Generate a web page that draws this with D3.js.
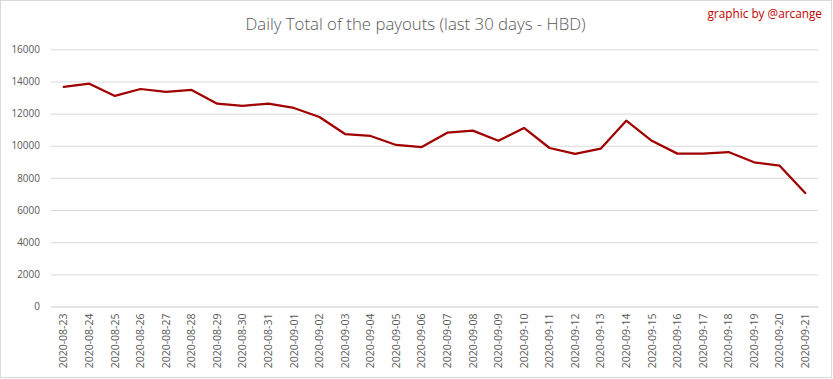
<!DOCTYPE html>
<html><head><meta charset="utf-8">
<script src="https://cdn.jsdelivr.net/npm/d3@7"></script>
<style>body{margin:0;background:#fff}svg{display:block}</style>
</head><body>
<svg id="c" width="833" height="379"></svg>
<script>
const dates = ["2020-08-23","2020-08-24","2020-08-25","2020-08-26","2020-08-27","2020-08-28","2020-08-29","2020-08-30","2020-08-31","2020-09-01","2020-09-02","2020-09-03","2020-09-04","2020-09-05","2020-09-06","2020-09-07","2020-09-08","2020-09-09","2020-09-10","2020-09-11","2020-09-12","2020-09-13","2020-09-14","2020-09-15","2020-09-16","2020-09-17","2020-09-18","2020-09-19","2020-09-20","2020-09-21"];
const payouts = [13660,13860,13100,13530,13350,13470,12620,12480,12620,12350,11790,10730,10610,10050,9920,10810,10940,10310,11110,9860,9490,9820,11560,10310,9510,9510,9610,8970,8760,7060];
const yTicks = [0,2000,4000,6000,8000,10000,12000,14000,16000];
const titleText = "Daily Total of the payouts (last 30 days - HBD)";
const creditText = "graphic by @arcange";

const svg = d3.select("#c");
const W = 833, H = 379;
const m = {left:51, right:15, top:49.3, bottom:72.5};

svg.append("rect").attr("x",0.5).attr("y",0.5).attr("width",W-2).attr("height",H-2)
  .attr("fill","#fff").attr("stroke","#d9d9d9");

const x = d3.scaleBand().domain(dates).range([m.left, W-m.right]);
const y = d3.scaleLinear().domain([0,16000]).range([H-m.bottom, m.top]);

// gridlines
const yAxis = d3.axisLeft(y).tickValues(yTicks).tickSize(-(W-m.right-m.left)).tickPadding(11).tickFormat(d3.format("d"));
const gy = svg.append("g").attr("transform",`translate(${m.left},0)`).call(yAxis);
gy.select(".domain").remove();
gy.selectAll(".tick line").attr("stroke","#d9d9d9").attr("stroke-width",1);
gy.selectAll(".tick text").attr("fill","#595959").style("font-family","'Open Sans', sans-serif").style("font-size","10px");

// x axis
const xAxis = d3.axisBottom(x).tickSize(0).tickPadding(0);
const gx = svg.append("g").attr("transform",`translate(0,${y(0)})`).call(xAxis);
gx.select(".domain").attr("stroke","#d9d9d9");
gx.selectAll(".tick text")
  .attr("fill","#595959").style("font-family","'Open Sans', sans-serif").style("font-size","10.5px")
  .attr("transform","rotate(-90)").attr("text-anchor","end").attr("dy","0.35em").attr("x",-7).attr("y",0);

// line
const line = d3.line().x((d,i)=>x(dates[i])+x.bandwidth()/2).y(d=>y(d));
svg.append("path").datum(payouts).attr("d",line).attr("fill","none")
  .attr("stroke","#a00000").attr("stroke-width",2.25).attr("stroke-linejoin","round").attr("stroke-linecap","round");

// title
svg.append("text").attr("x",415.5).attr("y",30).attr("text-anchor","middle")
  .attr("fill","#595959").style("font-family","'Open Sans', sans-serif").style("font-weight","300").style("font-size","16.8px")
  .text(titleText);
svg.append("text").attr("x",822).attr("y",18).attr("text-anchor","end")
  .attr("fill","#c00000").style("font-family","'Open Sans', sans-serif").style("font-size","11.8px")
  .text(creditText);
</script>
</body></html>
